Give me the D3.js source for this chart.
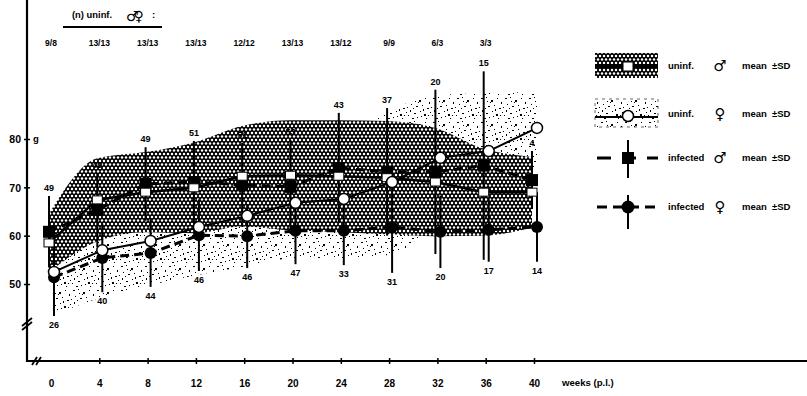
<!DOCTYPE html>
<html>
<head>
<meta charset="utf-8">
<script src="https://cdn.jsdelivr.net/npm/d3@7"></script>
<style>
  body { margin: 0; background: #fff; }
  svg text { font-family: "Liberation Sans", Arial, sans-serif; font-weight: bold; fill: #000; }
  svg text.sym { font-family: "DejaVu Sans", sans-serif; }
</style>
</head>
<body>
<svg id="chart" width="807" height="396"></svg>
<script>
// Body weight (g) of uninfected and infected animals, by sex, weeks post infection
const weeks = [0, 4, 8, 12, 16, 20, 24, 28, 32, 36, 40];
const weekLabels = ["0", "4", "8", "12", "16", "20", "24", "28", "32", "36", "40"];
const yTicks = [50, 60, 70, 80];

const uninfMaleMean = [58.5, 67.4, 69.0, 69.9, 72.3, 72.5, 72.3, 72.0, 71.1, 69.0, 69.0];
const uninfMaleSD   = [6.0, 8.6, 8.3, 9.4, 10.4, 11.4, 11.6, 11.7, 11.2, 9.0, 7.3];

const uninfFemaleMean = [52.5, 57.0, 58.9, 61.8, 64.1, 66.8, 67.6, 71.1, 76.1, 77.5, 82.3];
const uninfFemaleSD   = [8.9, 9.7, 9.1, 9.9, 10.4, 11.4, 12.2, 15.0, 13.0, 12.0, 7.5];

const infMaleMean = [60.8, 65.3, 70.7, 71.1, 70.5, 70.1, 74.0, 73.2, 73.2, 74.5, 71.5];
const infMaleSD   = [7.4, 7.7, 7.6, 8.5, 8.7, 9.7, 11.4, 13.2, 17.0, 19.5, 6.0];
const infMaleN    = [49, 49, 49, 51, 51, 53, 43, 37, 20, 15, 4];

const infFemaleMean = [51.4, 55.4, 56.4, 60.1, 59.9, 61.0, 61.0, 61.8, 60.8, 61.2, 61.8];
const infFemaleSD   = [8.0, 7.1, 7.0, 7.4, 6.6, 6.9, 7.1, 9.5, 7.5, 6.6, 7.2];
const infFemaleN    = [26, 40, 44, 46, 46, 47, 33, 31, 20, 17, 14];

// group sizes of the uninfected controls (male / female)
const uninfCounts = ["9/8", "13/13", "13/13", "13/13", "12/12", "13/13", "13/12", "9/9", "6/3", "3/3"];

const svg = d3.select("#chart");
const axisX = 27, axisY = 361;
const x = d3.scaleLinear().domain([0, 40]).range([51, 534]);
const y = d3.scaleLinear().domain([50, 80]).range([284, 139]);
const maleDx = -2, femaleDx = 3;

// ---- textures ----
const defs = svg.append("defs");
const hex = defs.append("pattern").attr("id", "hex")
  .attr("patternUnits", "userSpaceOnUse").attr("width", 4).attr("height", 7);
hex.append("rect").attr("width", 4).attr("height", 7).attr("fill", "#000");
[[0, 0], [4, 0], [2, 3.5], [0, 7], [4, 7]].forEach(([cx, cy]) =>
  hex.append("circle").attr("cx", cx).attr("cy", cy).attr("r", 1.25).attr("fill", "#fff"));

const speckleDots = [
  [1, 2, 2, 1], [6, 1, 1, 1], [11, 4, 2, 2], [17, 2, 1, 1], [21, 6, 1, 2],
  [3, 8, 1, 1], [8, 10, 2, 1], [14, 9, 1, 1], [19, 12, 2, 1], [2, 14, 1, 2],
  [6, 17, 2, 1], [12, 15, 1, 1], [16, 18, 2, 2], [22, 16, 1, 1], [9, 21, 1, 1],
  [4, 22, 2, 1], [18, 22, 1, 1], [13, 20, 1, 1], [23, 11, 1, 1], [10, 6, 1, 1],
  [15, 13, 1, 2], [0, 19, 1, 1], [7, 5, 1, 1], [20, 19, 1, 1], [5, 12, 1, 1]
];
const speck = defs.append("pattern").attr("id", "speck")
  .attr("patternUnits", "userSpaceOnUse").attr("width", 24).attr("height", 24);
speck.append("rect").attr("width", 24).attr("height", 24).attr("fill", "#fff");
speckleDots.forEach(([sx, sy, w, h]) =>
  speck.append("rect").attr("x", sx).attr("y", sy).attr("width", w).attr("height", h).attr("fill", "#000"));

// ---- bands (mean ± SD of uninfected groups) ----
const band = (mean, sd, dx) => d3.area()
  .x((d, i) => x(weeks[i]) + dx)
  .y0((d, i) => y(mean[i] - sd[i]))
  .y1((d, i) => y(mean[i] + sd[i]))
  .curve(d3.curveMonotoneX);

svg.append("path").datum(weeks).attr("d", band(uninfFemaleMean, uninfFemaleSD, femaleDx))
  .attr("fill", "url(#speck)");
svg.append("path").datum(weeks).attr("d", band(uninfMaleMean, uninfMaleSD, maleDx))
  .attr("fill", "url(#hex)");

// ---- mean lines ----
const meanLine = (mean, dx) => d3.line().x((d, i) => x(weeks[i]) + dx).y((d, i) => y(mean[i]));
svg.append("path").datum(weeks).attr("d", meanLine(uninfFemaleMean, femaleDx))
  .attr("fill", "none").attr("stroke", "#000").attr("stroke-width", 2);
svg.append("path").datum(weeks).attr("d", meanLine(uninfMaleMean, maleDx))
  .attr("fill", "none").attr("stroke", "#000").attr("stroke-width", 2.5);
svg.append("path").datum(weeks).attr("d", meanLine(infMaleMean, maleDx))
  .attr("fill", "none").attr("stroke", "#000").attr("stroke-width", 3).attr("stroke-dasharray", "9,5");
svg.append("path").datum(weeks).attr("d", meanLine(infFemaleMean, femaleDx))
  .attr("fill", "none").attr("stroke", "#000").attr("stroke-width", 3).attr("stroke-dasharray", "9,5");

// ---- SD whiskers of infected groups ----
svg.append("g").selectAll("line").data(weeks).join("line")
  .attr("x1", (d) => x(d) + maleDx).attr("x2", (d) => x(d) + maleDx)
  .attr("y1", (d, i) => y(infMaleMean[i] - infMaleSD[i]))
  .attr("y2", (d, i) => y(infMaleMean[i] + infMaleSD[i]))
  .attr("stroke", "#000").attr("stroke-width", 2);
svg.append("g").selectAll("line").data(weeks).join("line")
  .attr("x1", (d) => x(d) + femaleDx).attr("x2", (d) => x(d) + femaleDx)
  .attr("y1", (d, i) => y(infFemaleMean[i] - infFemaleSD[i]))
  .attr("y2", (d, i) => y(infFemaleMean[i] + infFemaleSD[i]))
  .attr("stroke", "#000").attr("stroke-width", 2);

// ---- markers ----
svg.append("g").selectAll("rect").data(weeks).join("rect")
  .attr("x", (d) => x(d) + maleDx - 6).attr("y", (d, i) => y(infMaleMean[i]) - 6)
  .attr("width", 12).attr("height", 12).attr("fill", "#000");
svg.append("g").selectAll("rect").data(weeks).join("rect")
  .attr("x", (d) => x(d) + maleDx - 5).attr("y", (d, i) => y(uninfMaleMean[i]) - 4)
  .attr("width", 10).attr("height", 8).attr("fill", "#fff").attr("stroke", "#000").attr("stroke-width", 1);
svg.append("g").selectAll("circle").data(weeks).join("circle")
  .attr("cx", (d) => x(d) + femaleDx).attr("cy", (d, i) => y(infFemaleMean[i]))
  .attr("r", 6).attr("fill", "#000");
svg.append("g").selectAll("circle").data(weeks).join("circle")
  .attr("cx", (d) => x(d) + femaleDx).attr("cy", (d, i) => y(uninfFemaleMean[i]))
  .attr("r", 5.5).attr("fill", "#fff").attr("stroke", "#000").attr("stroke-width", 1.5);

// ---- group sizes of infected animals at whisker ends ----
svg.append("g").selectAll("text").data(weeks).join("text")
  .attr("x", (d) => x(d) + maleDx).attr("y", (d, i) => y(infMaleMean[i] + infMaleSD[i]) - 5)
  .attr("text-anchor", "middle").attr("font-size", 9).text((d, i) => infMaleN[i]);
svg.append("g").selectAll("text").data(weeks).join("text")
  .attr("x", (d) => x(d) + femaleDx).attr("y", (d, i) => y(infFemaleMean[i] - infFemaleSD[i]) + 12)
  .attr("text-anchor", "middle").attr("font-size", 9).text((d, i) => infFemaleN[i]);

// ---- axes ----
svg.append("line").attr("x1", axisX).attr("x2", axisX).attr("y1", 0).attr("y2", axisY + 1)
  .attr("stroke", "#000").attr("stroke-width", 2.2);
svg.append("line").attr("x1", axisX - 1).attr("x2", 807).attr("y1", axisY).attr("y2", axisY)
  .attr("stroke", "#000").attr("stroke-width", 2.2);

const gx = svg.append("g").attr("transform", `translate(0,${axisY})`)
  .call(d3.axisBottom(x).tickValues(weeks).tickFormat((d, i) => weekLabels[i]).tickSizeOuter(0));
gx.select(".domain").remove();
gx.attr("font-family", null).attr("font-size", null);
gx.selectAll(".tick line").attr("y1", -3).attr("y2", 3).attr("stroke-width", 1.5)
  .filter((d) => d === 0).remove();
gx.selectAll(".tick text").attr("y", 22).attr("dy", "0.35em").attr("font-size", 10);

const gy = svg.append("g").attr("transform", `translate(${axisX},0)`)
  .call(d3.axisLeft(y).tickValues(yTicks).tickSizeOuter(0));
gy.select(".domain").remove();
gy.attr("font-family", null).attr("font-size", null);
gy.selectAll(".tick line").attr("x1", -3).attr("x2", 3).attr("stroke-width", 1.5);
gy.selectAll(".tick text").attr("x", -6).attr("dy", "0.35em").attr("font-size", 10.5);
svg.append("text").attr("x", 33).attr("y", y(80)).attr("dy", "0.35em")
  .attr("font-size", 9.5).text("g");

// axis breaks
const brk = svg.append("g").attr("stroke", "#000").attr("stroke-width", 1.8);
[0, 4].forEach((o) => {
  brk.append("line").attr("x1", axisX - 5).attr("y1", 326 + o).attr("x2", axisX + 5).attr("y2", 318 + o);
  brk.append("line").attr("x1", 32 + o).attr("y1", axisY + 4).attr("x2", 37 + o).attr("y2", axisY - 4);
});

svg.append("text").attr("x", 562).attr("y", axisY + 22).attr("dy", "0.35em")
  .attr("font-size", 9.6).text("weeks (p.l.)");

// ---- header: sizes of control groups ----
svg.append("text").attr("x", 72).attr("y", 18).attr("font-size", 9.4).text("(n) uninf.");
svg.append("text").attr("class", "sym").attr("x", 126).attr("y", 21).attr("font-size", 14)
  .attr("letter-spacing", -5).text("♂♀");
svg.append("text").attr("x", 152).attr("y", 18).attr("font-size", 9.5).text(":");
svg.append("line").attr("x1", 63).attr("x2", 162).attr("y1", 27).attr("y2", 27)
  .attr("stroke", "#000").attr("stroke-width", 1.8);
svg.append("g").selectAll("text").data(uninfCounts).join("text")
  .attr("x", (d, i) => x(weeks[i])).attr("y", 46).attr("text-anchor", "middle")
  .attr("font-size", 8.5).text((d) => d);

// ---- legend ----
const lg = svg.append("g");
const lx0 = 595, lx1 = 658, lcx = 628;
// uninfected male
lg.append("rect").attr("x", lx0).attr("y", 53).attr("width", lx1 - lx0).attr("height", 25).attr("fill", "url(#hex)");
lg.append("line").attr("x1", lx0).attr("x2", lx1).attr("y1", 66).attr("y2", 66).attr("stroke", "#000").attr("stroke-width", 4);
lg.append("rect").attr("x", lcx - 5).attr("y", 62).attr("width", 10).attr("height", 9)
  .attr("fill", "#fff").attr("stroke", "#000");
// uninfected female
lg.append("rect").attr("x", lx0).attr("y", 99).attr("width", lx1 - lx0).attr("height", 28)
  .attr("fill", "url(#speck)").attr("stroke", "#000").attr("stroke-width", 0.6).attr("stroke-dasharray", "3,4");
lg.append("line").attr("x1", lx0).attr("x2", lx1).attr("y1", 117).attr("y2", 117).attr("stroke", "#000").attr("stroke-width", 2);
lg.append("circle").attr("cx", lcx).attr("cy", 116).attr("r", 5.5).attr("fill", "#fff").attr("stroke", "#000").attr("stroke-width", 1.5);
// infected male
lg.append("line").attr("x1", lcx).attr("x2", lcx).attr("y1", 140).attr("y2", 178).attr("stroke", "#000").attr("stroke-width", 2);
lg.append("line").attr("x1", lx0 + 2).attr("x2", lx1).attr("y1", 158).attr("y2", 158)
  .attr("stroke", "#000").attr("stroke-width", 3).attr("stroke-dasharray", "14,11");
lg.append("rect").attr("x", lcx - 6).attr("y", 152).attr("width", 12).attr("height", 12).attr("fill", "#000");
// infected female
lg.append("line").attr("x1", lcx).attr("x2", lcx).attr("y1", 195).attr("y2", 229).attr("stroke", "#000").attr("stroke-width", 2);
lg.append("line").attr("x1", lx0 + 2).attr("x2", lx1).attr("y1", 207).attr("y2", 207)
  .attr("stroke", "#000").attr("stroke-width", 3).attr("stroke-dasharray", "10,6");
lg.append("circle").attr("cx", lcx).attr("cy", 207).attr("r", 6.5).attr("fill", "#000");

const legendRows = [
  { cy: 66, name: "uninf.", sex: "♂" },
  { cy: 114, name: "uninf.", sex: "♀" },
  { cy: 158, name: "infected", sex: "♂" },
  { cy: 207, name: "infected", sex: "♀" }
];
legendRows.forEach((r) => {
  lg.append("text").attr("x", 668).attr("y", r.cy).attr("dy", "0.35em").attr("font-size", 9.5).text(r.name);
  lg.append("text").attr("class", "sym").attr("x", 720).attr("y", r.cy).attr("dy", "0.35em")
    .attr("text-anchor", "middle").attr("font-size", 15).text(r.sex);
  lg.append("text").attr("x", 742).attr("y", r.cy).attr("dy", "0.35em").attr("font-size", 9.5).text("mean");
  lg.append("text").attr("x", 772).attr("y", r.cy).attr("dy", "0.35em").attr("font-size", 9.5).text("±SD");
});
</script>
</body>
</html>
